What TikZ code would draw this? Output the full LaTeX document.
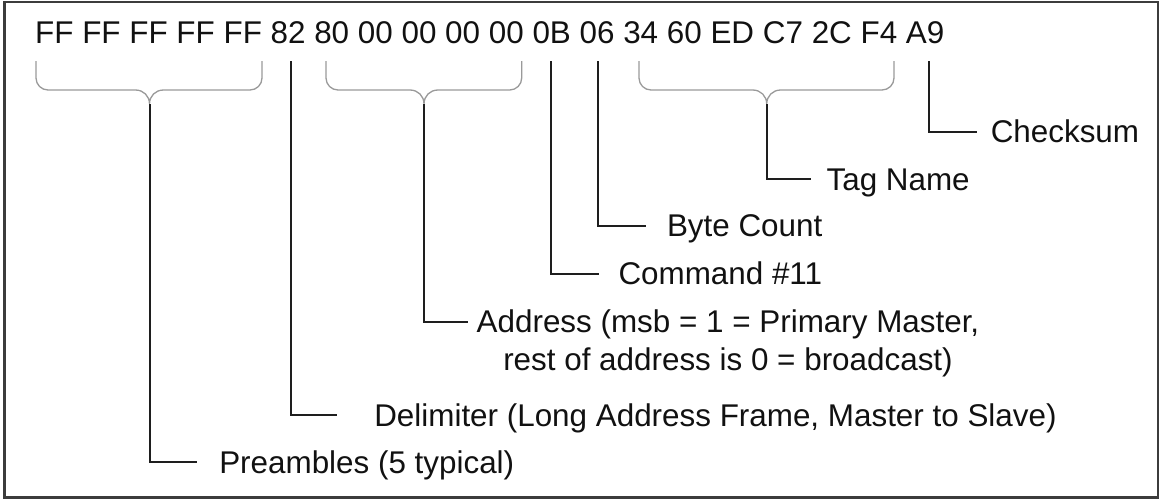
\documentclass[tikz,border=0pt]{standalone}
\usepackage{fontspec}
\setmainfont{Liberation Sans}
\definecolor{textblk}{HTML}{111111}
\definecolor{lineblk}{HTML}{1E1E1E}
\definecolor{bracegray}{HTML}{9A9A9A}
\definecolor{framegray}{HTML}{3C3C3C}
\newcommand\hexbrace[3]{%
  \draw[bracestyle] (#1,61) -- (#1,78) .. controls (#1,84.6) and ({#1+5.4},90) .. ({#1+12},90)
    -- ({#3-14},90) .. controls ({#3-6},90) and (#3,96) .. (#3,104)
    .. controls (#3,96) and ({#3+6},90) .. ({#3+14},90)
    -- ({#2-12},90) .. controls ({#2-5.4},90) and (#2,84.6) .. (#2,78) -- (#2,61);}
\begin{document}
\begin{tikzpicture}[x=1pt,y=-1pt,
  txt/.style={font=\fontsize{31.4}{37.7}\selectfont, inner sep=0pt, outer sep=0pt, text=textblk},
  lbl/.style={txt, anchor=base west},
  lead/.style={draw=lineblk, line width=2pt, line cap=butt, line join=miter},
  bracestyle/.style={line width=1.3pt, draw=bracegray, line cap=butt}]
\useasboundingbox (0,0) rectangle (1160,499);
\draw[draw=framegray, line width=2.5pt] (4.5,2) rectangle (1158,497.5);

\node[lbl] (hex) at (35.2,43.3) {FF FF FF FF FF 82 80 00 00 00 00 0B 06 34 60 ED C7 2C F4 A9};

% labels
\node[lbl] (chk) at (990.8,142.8) {Checksum};
\node[lbl] (tag) at (826.6,190.1) {Tag Name};
\node[lbl] (bc)  at (667,236.8) {Byte Count};
\node[lbl] (cmd) at (618.5,284.8) {Command \#11};
\node[lbl] (addr) at (476.7,332.5) {Address (msb = 1 = Primary Master,};
\node[txt, anchor=base] (addr2) at ([yshift=-37.7pt]addr.base) {rest of address is 0 = broadcast)};
\node[lbl] (del) at (374.3,426.1) {Delimiter (Long Address Frame, Master to Slave)};
\node[lbl] (pre) at (219.3,473.1) {Preambles (5 typical)};

% braces
\hexbrace{36}{262}{149.5}
\hexbrace{326}{521.7}{424}
\hexbrace{639}{894}{766.7}

% anchor points
\coordinate (t82) at (291,61);
\coordinate (t0B) at (551,61);
\coordinate (t06) at (598.3,61);
\coordinate (tA9) at (929,61);
\coordinate (cPre) at (149.5,104);
\coordinate (cAddr) at (424,104);
\coordinate (cTag) at (766.7,104);
\coordinate (ePre) at (196.7,462.3);
\coordinate (eDel) at (337.3,415.3);
\coordinate (eAddr) at (468.3,321.7);
\coordinate (eCmd) at (599,274);
\coordinate (eBc) at (645.7,226);
\coordinate (eTag) at (811,179.3);
\coordinate (eChk) at (976.7,132);

% leaders
\draw[lead] (cPre) |- (ePre);
\draw[lead] (t82) |- (eDel);
\draw[lead] (cAddr) |- (eAddr);
\draw[lead] (t0B) |- (eCmd);
\draw[lead] (t06) |- (eBc);
\draw[lead] (cTag) |- (eTag);
\draw[lead] (tA9) |- (eChk);
\end{tikzpicture}
\end{document}
